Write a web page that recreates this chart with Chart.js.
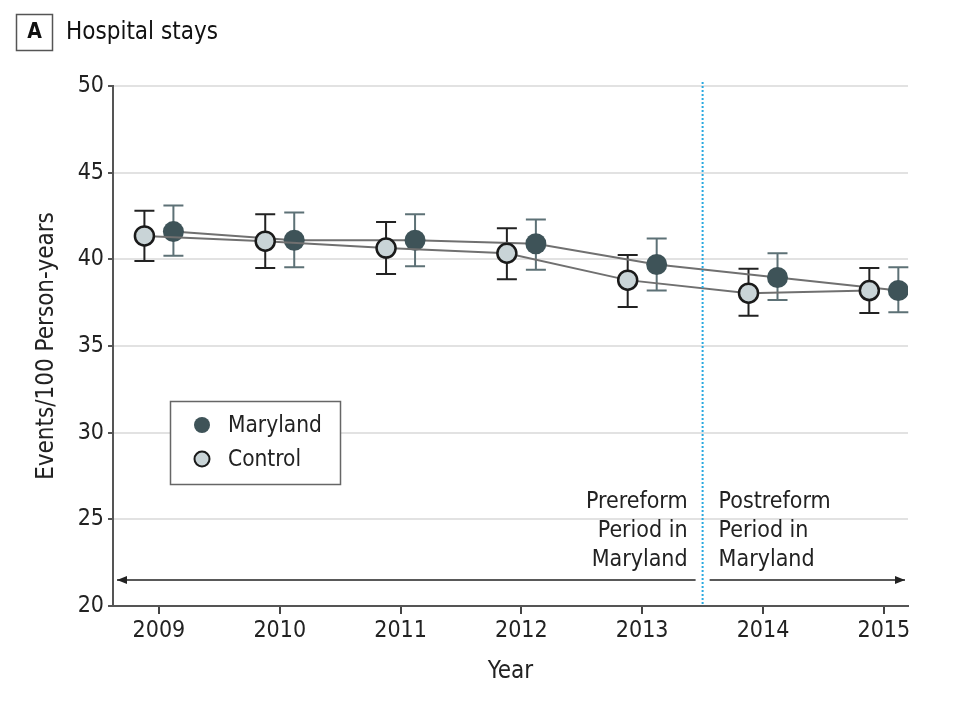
<!DOCTYPE html>
<html>
<head>
<meta charset="utf-8">
<script src="https://cdn.jsdelivr.net/npm/chart.js@4.4.1/dist/chart.umd.min.js"></script>
<style>
    html, body { margin: 0; padding: 0; background: #fff; }
    canvas { display: block; }
</style>
</head>
<body>
<canvas id="stays" width="960" height="705"></canvas>
<script>
const years = [2009, 2010, 2011, 2012, 2013, 2014, 2015];
const marylandRate = [41.6, 41.1, 41.1, 40.9, 39.7, 38.95, 38.2];
const marylandLow = [40.2, 39.55, 39.6, 39.4, 38.2, 37.65, 36.95];
const marylandHigh = [43.1, 42.7, 42.6, 42.3, 41.2, 40.35, 39.55];
const controlRate = [41.35, 41.05, 40.65, 40.35, 38.8, 38.05, 38.2];
const controlLow = [39.9, 39.5, 39.15, 38.85, 37.25, 36.75, 36.9];
const controlHigh = [42.8, 42.6, 42.15, 41.8, 40.25, 39.45, 39.5];
const yTicks = [20, 25, 30, 35, 40, 45, 50];
const reformYear = 2013.5;

const FONT = '"Liberation Sans Narrow", "DejaVu Sans Condensed", "Noto Sans", sans-serif';
const SHIFT = 0.12; // horizontal dodge between the two groups

const mdColor = '#3e5358';
const ctlFill = '#c9d4d7';

// error bars, drawn under the points
const errorBars = {
    id: 'errorBars',
    beforeDatasetsDraw(chart) {
        const { ctx, scales: { x, y } } = chart;
        const groups = [
            { low: controlLow, high: controlHigh, dx: -SHIFT, color: '#222' },
            { low: marylandLow, high: marylandHigh, dx: SHIFT, color: '#5d7176' }
        ];
        ctx.save();
        ctx.lineWidth = 2;
        groups.forEach(g => {
            ctx.strokeStyle = g.color;
            years.forEach((yr, i) => {
                const px = x.getPixelForValue(yr + g.dx);
                const top = y.getPixelForValue(g.high[i]);
                const bot = y.getPixelForValue(g.low[i]);
                ctx.beginPath();
                ctx.moveTo(px, top); ctx.lineTo(px, bot);
                ctx.moveTo(px - 10, top); ctx.lineTo(px + 10, top);
                ctx.moveTo(px - 10, bot); ctx.lineTo(px + 10, bot);
                ctx.stroke();
            });
        });
        ctx.restore();
    }
};

// reform line, period arrows + labels, title, legend
const extras = {
    id: 'extras',
    afterDraw(chart) {
        const { ctx, scales: { x, y } } = chart;
        ctx.save();

        // dotted reform line
        const rx = x.getPixelForValue(reformYear);
        ctx.strokeStyle = '#2aa9e0';
        ctx.lineWidth = 2;
        ctx.setLineDash([2, 2]);
        ctx.beginPath();
        ctx.moveTo(rx, y.top - 4);
        ctx.lineTo(rx, y.bottom);
        ctx.stroke();
        ctx.setLineDash([]);

        // arrows
        const ay = y.getPixelForValue(21.5);
        ctx.strokeStyle = '#222';
        ctx.fillStyle = '#222';
        ctx.lineWidth = 1.5;
        const arrow = (x1, x2, dir) => {
            ctx.beginPath();
            ctx.moveTo(x1, ay); ctx.lineTo(x2, ay);
            ctx.stroke();
            const tip = dir < 0 ? x1 : x2;
            ctx.beginPath();
            ctx.moveTo(tip, ay);
            ctx.lineTo(tip - dir * 10, ay - 4);
            ctx.lineTo(tip - dir * 10, ay + 4);
            ctx.closePath();
            ctx.fill();
        };
        arrow(x.left + 4, rx - 7, -1);
        arrow(rx + 7, x.right - 3, 1);

        // period labels
        ctx.font = '23px ' + FONT;
        ctx.fillStyle = '#222';
        ctx.textBaseline = 'middle';
        ctx.textAlign = 'right';
        ['Prereform', 'Period in', 'Maryland'].forEach((t, i) => ctx.fillText(t, rx - 15, 502 + i * 29));
        ctx.textAlign = 'left';
        ['Postreform', 'Period in', 'Maryland'].forEach((t, i) => ctx.fillText(t, rx + 16, 502 + i * 29));

        // panel title
        ctx.strokeStyle = '#555';
        ctx.lineWidth = 1.5;
        ctx.strokeRect(16.5, 14.5, 36, 36);
        ctx.font = 'bold 21px ' + FONT;
        ctx.textAlign = 'center';
        ctx.fillStyle = '#111';
        ctx.fillText('A', 34.5, 33);
        ctx.font = '24px ' + FONT;
        ctx.textAlign = 'left';
        ctx.fillText('Hospital stays', 66, 33);

        // legend box
        ctx.fillStyle = '#fff';
        ctx.fillRect(170, 401, 170, 83);
        ctx.strokeStyle = '#666';
        ctx.lineWidth = 1.5;
        ctx.strokeRect(170.5, 401.5, 170, 83);
        ctx.beginPath();
        ctx.arc(202, 425, 8, 0, Math.PI * 2);
        ctx.fillStyle = mdColor;
        ctx.fill();
        ctx.beginPath();
        ctx.arc(202, 459, 7.5, 0, Math.PI * 2);
        ctx.fillStyle = ctlFill;
        ctx.fill();
        ctx.strokeStyle = '#1a1a1a';
        ctx.lineWidth = 2;
        ctx.stroke();
        ctx.font = '22.5px ' + FONT;
        ctx.fillStyle = '#222';
        ctx.textAlign = 'left';
        ctx.fillText('Maryland', 228, 426);
        ctx.fillText('Control', 228, 460);

        ctx.restore();
    }
};

new Chart(document.getElementById('stays'), {
    type: 'line',
    data: {
        datasets: [
            {
                label: 'Control',
                data: years.map((yr, i) => ({ x: yr - SHIFT, y: controlRate[i] })),
                borderColor: '#707070',
                borderWidth: 2,
                pointRadius: 9.5,
                pointBorderWidth: 2.5,
                pointBackgroundColor: ctlFill,
                pointBorderColor: '#1a1a1a',
                fill: false
            },
            {
                label: 'Maryland',
                data: years.map((yr, i) => ({ x: yr + SHIFT, y: marylandRate[i] })),
                borderColor: '#707070',
                borderWidth: 2,
                pointRadius: 10.5,
                pointBorderWidth: 0,
                pointBackgroundColor: mdColor,
                pointBorderColor: mdColor,
                fill: false
            }
        ]
    },
    options: {
        responsive: false,
        animation: false,
        devicePixelRatio: 1,
        layout: { padding: { left: 0, top: 86, right: 52, bottom: 0 } },
        plugins: {
            legend: { display: false },
            tooltip: { enabled: false }
        },
        scales: {
            x: {
                type: 'linear',
                min: 2008.62,
                max: 2015.2,
                afterFit: s => { s.height = 99; },
                afterBuildTicks: s => { s.ticks = years.map(v => ({ value: v })); },
                grid: { drawOnChartArea: false, tickLength: 8, tickColor: '#444', lineWidth: 2 },
                border: { color: '#555', width: 2 },
                ticks: {
                    color: '#222',
                    padding: 3,
                    font: { family: FONT, size: 23 },
                    callback: v => String(v)
                },
                title: {
                    display: true,
                    text: 'Year',
                    color: '#222',
                    font: { family: FONT, size: 24 },
                    padding: { bottom: 19 }
                }
            },
            y: {
                min: 20,
                max: 50,
                afterFit: s => { s.width = 113; },
                afterBuildTicks: s => { s.ticks = yTicks.map(v => ({ value: v })); },
                grid: { color: '#e2e2e2', lineWidth: 2, tickLength: 5, tickColor: '#555' },
                border: { color: '#555', width: 2 },
                ticks: {
                    color: '#222',
                    padding: 4,
                    font: { family: FONT, size: 23 }
                },
                title: {
                    display: true,
                    text: 'Events/100 Person-years',
                    color: '#222',
                    font: { family: FONT, size: 24 },
                    padding: { top: 32 }
                }
            }
        }
    },
    plugins: [errorBars, extras]
});
</script>
</body>
</html>
